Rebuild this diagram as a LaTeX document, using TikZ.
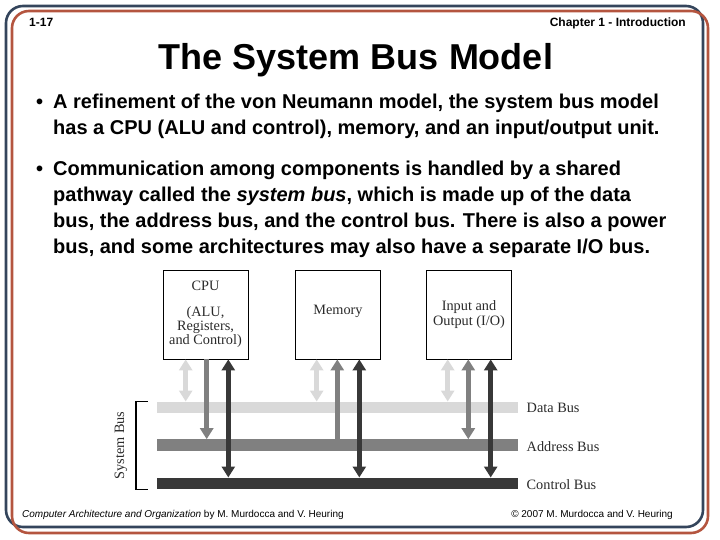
\documentclass[tikz,border=0pt]{standalone}
\usepackage{fontspec}
\setmainfont{Liberation Sans}
\newfontfamily\tms{Liberation Serif}
\usetikzlibrary{arrows.meta}
\definecolor{frameblue}{HTML}{34455C}
\definecolor{framered}{HTML}{B4553F}
\definecolor{buslight}{HTML}{D9D9D9}
\definecolor{busmid}{HTML}{808080}
\definecolor{busdark}{HTML}{383838}
\definecolor{figtext}{HTML}{2A2A2A}
\tikzset{
  framebox/.style={line width=2.6pt, rounded corners=17pt},
  hdr/.style={font=\bfseries\fontsize{12}{14}\selectfont, inner sep=0pt},
  ttl/.style={font=\bfseries\fontsize{36}{40}\selectfont, inner sep=0pt},
  bul/.style={font=\bfseries\fontsize{20}{26}\selectfont, inner sep=0pt, anchor=base west},
  foot/.style={font=\fontsize{10}{12}\selectfont, inner sep=0pt},
  unitbox/.style={draw=black, line width=0.8pt, minimum width=85pt, minimum height=89pt,
     inner sep=0pt, align=center, text=figtext, font=\tms\fontsize{14.3}{15.5}\selectfont},
  busbar/.style={inner sep=0pt, minimum width=361pt, minimum height=11.6pt},
  lbl/.style={font=\tms\fontsize{14.3}{16}\selectfont, text=figtext, inner sep=0pt},
  conn/.style={line width=5pt},
  lightconn/.style={conn, draw=buslight, {Triangle[width=13pt,length=11pt]}-{Triangle[width=13pt,length=11pt]}},
  midconn/.style={conn, draw=busmid},
  darkconn/.style={conn, draw=busdark, {Triangle[width=13pt,length=11pt]}-{Triangle[width=13pt,length=11pt]}},
}
\begin{document}
\begin{tikzpicture}[x=1pt,y=-1pt]
\useasboundingbox (0,0) rectangle (720,540);
% frame
\draw[framebox, draw=frameblue] (6,6) rectangle (703,527);
\draw[framebox, draw=framered] (12,11) rectangle (708,533);
% header
\node[hdr, anchor=base west] (pg) at (29,27) {1-17};
\node[hdr, anchor=base east] (chap) at (686,27) {Chapter 1 - Introduction};
\node[ttl, anchor=base] (title) at (356,70) {The System Bus Model};
% bullets
\node[bul] (b1) at (36,109) {\textbullet};
\node[bul] (l1) at (53,109) {A refinement of the von Neumann model, the system bus model};
\node[bul] (l2) at (53,135) {has a CPU (ALU and control), memory, and an input/output unit.};
\node[bul] (b2) at (36,176) {\textbullet};
\node[bul] (l3) at (53,176) {Communication among components is handled by a shared};
\node[bul] (l4) at (53,202) {pathway called the \textit{system bus}, which is made up of the data};
\node[bul] (l5) at (53,228) {bus, the address bus, and the control bus. There is also a power};
\node[bul] (l6) at (53,254) {bus, and some architectures may also have a separate I/O bus.};
% units
\node[unitbox] (cpu) at (205.5,314.5) {CPU\\[10pt](ALU,\\[-1.5pt]Registers,\\[-1pt]and Control)};
\node[unitbox] (mem) at (338,314.5) {Memory\\[-6pt]};
\node[unitbox] (io) at (469,314.5) {Input and\\Output (I/O)};
% buses
\node[busbar, fill=buslight] (data) at (337.8,407.5) {};
\node[busbar, fill=busmid] (addr) at (337.8,445.2) {};
\node[busbar, fill=busdark] (ctrl) at (337.8,483.5) {};
\node[lbl, anchor=base west] (dl) at (526.5,412.5) {Data Bus};
\node[lbl, anchor=base west] (al) at (526.5,451) {Address Bus};
\node[lbl, anchor=base west] (cl) at (526.5,489) {Control Bus};
% bracket
\draw[line width=1.3pt] (147.5,401.7) -- (136,401.7) -- (136,489.3) -- (147.5,489.3);
\node[lbl, rotate=90] (sb) at (121,445.5) {System Bus};
% connector x positions
\coordinate (a1) at (185.7,0);
\coordinate (a2) at (206.7,0);
\coordinate (a3) at (228.3,0);
\coordinate (a4) at (316.7,0);
\coordinate (a5) at (337.3,0);
\coordinate (a6) at (359.3,0);
\coordinate (a7) at (447.7,0);
\coordinate (a8) at (468.3,0);
\coordinate (a9) at (490.7,0);
% CPU connectors
\draw[lightconn] (cpu.south -| a1) -- (data.north -| a1);
\draw[midconn, -{Triangle[width=13pt,length=11pt]}] (cpu.south -| a2) -- (addr.north -| a2);
\draw[darkconn] (cpu.south -| a3) -- (ctrl.north -| a3);
% memory connectors
\draw[lightconn] (mem.south -| a4) -- (data.north -| a4);
\draw[midconn, -{Triangle[width=13pt,length=11pt]}] (addr.north -| a5) -- (mem.south -| a5);
\draw[darkconn] (mem.south -| a6) -- (ctrl.north -| a6);
% I/O connectors
\draw[lightconn] (io.south -| a7) -- (data.north -| a7);
\draw[midconn, {Triangle[width=13pt,length=11pt]}-{Triangle[width=13pt,length=11pt]}] (io.south -| a8) -- (addr.north -| a8);
\draw[darkconn] (io.south -| a9) -- (ctrl.north -| a9);
% footer
\node[foot, anchor=base west] (f1) at (22,517) {\textit{Computer Architecture and Organization} by M. Murdocca and V. Heuring};
\node[foot, anchor=base east] (f2) at (673,517) {© 2007 M. Murdocca and V. Heuring};
\end{tikzpicture}
\end{document}
